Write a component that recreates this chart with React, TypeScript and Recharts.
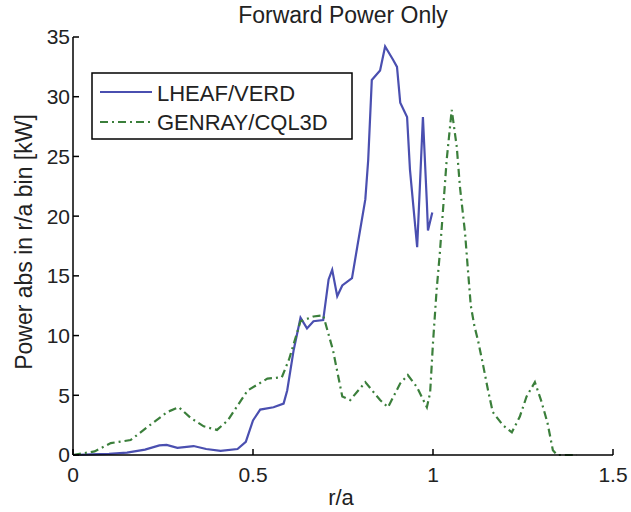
import React from 'react';
import { LineChart, Line, XAxis, YAxis, Legend, Label } from 'recharts';

// LHEAF/VERD absorbed power vs r/a
const lheafR = [0, 0.05, 0.1, 0.15, 0.2, 0.24, 0.26, 0.29, 0.335, 0.37, 0.41, 0.457, 0.48, 0.5, 0.52, 0.557, 0.585, 0.595, 0.613, 0.632, 0.65, 0.668, 0.695, 0.71, 0.72, 0.734, 0.748, 0.775, 0.79, 0.812, 0.82, 0.83, 0.853, 0.867, 0.889, 0.9, 0.909, 0.928, 0.936, 0.956, 0.964, 0.972, 0.983, 0.986, 0.998];
const lheafP = [0, 0.05, 0.1, 0.2, 0.45, 0.8, 0.85, 0.6, 0.75, 0.5, 0.35, 0.5, 1.1, 2.9, 3.8, 4.0, 4.3, 5.4, 8.8, 11.5, 10.6, 11.2, 11.3, 14.7, 15.5, 13.3, 14.2, 14.8, 17.5, 21.4, 24.7, 31.4, 32.2, 34.2, 33.1, 32.5, 29.5, 28.3, 23.9, 17.4, 22.8, 28.3, 21.1, 18.8, 20.3];

// GENRAY/CQL3D absorbed power vs r/a
const genrayR = [0, 0.06, 0.105, 0.16, 0.207, 0.262, 0.294, 0.327, 0.363, 0.4, 0.43, 0.485, 0.54, 0.58, 0.6, 0.632, 0.668, 0.695, 0.722, 0.748, 0.77, 0.812, 0.853, 0.875, 0.909, 0.93, 0.955, 0.983, 0.992, 1.0, 1.01, 1.019, 1.038, 1.052, 1.066, 1.075, 1.089, 1.097, 1.105, 1.115, 1.125, 1.14, 1.153, 1.166, 1.194, 1.219, 1.241, 1.26, 1.283, 1.3, 1.318, 1.333, 1.345, 1.4];
const genrayP = [0, 0.3, 1.0, 1.25, 2.35, 3.6, 4.0, 3.1, 2.4, 2.1, 2.9, 5.4, 6.4, 6.5, 8.0, 11.2, 11.6, 11.7, 8.8, 4.9, 4.6, 6.1, 4.6, 4.0, 6.0, 6.7, 5.7, 4.0, 5.2, 9.4, 13.8, 16.9, 24.7, 28.9, 25.8, 22.4, 18.6, 15.5, 12.5, 10.8, 9.6, 7.4, 5.4, 3.6, 2.5, 1.9, 3.2, 4.9, 6.1, 4.6, 2.7, 0.4, 0, 0];

const xTicks = [0, 0.5, 1, 1.5];
const yTicks = [0, 5, 10, 15, 20, 25, 30, 35];

const lheafData = lheafR.map((r, i) => ({ r, p: lheafP[i] }));
const genrayData = genrayR.map((r, i) => ({ r, p: genrayP[i] }));

const BLUE = '#4a4fb0';
const GREEN = '#3b7f3b';
const FONT = '"Liberation Sans", Arial, sans-serif';
const TEXT = '#222';

const LegendBox = () => (
    <svg width={262} height={68} style={{ display: 'block' }}>
        <rect x={1} y={1} width={260} height={66} fill="#fff" stroke="#000" strokeWidth={1.5} />
        <line x1={9} y1={20} x2={61} y2={20} stroke={BLUE} strokeWidth={2} />
        <text x={66} y={29} fontSize={22} fontFamily={FONT} fill={TEXT}>LHEAF/VERD</text>
        <line x1={9} y1={50} x2={61} y2={50} stroke={GREEN} strokeWidth={2} strokeDasharray="8 4 2 4" />
        <text x={66} y={58} fontSize={22} fontFamily={FONT} fill={TEXT}>GENRAY/CQL3D</text>
    </svg>
);

const App: React.FC = () => {
    const tickStyle = { fontSize: 21, fontFamily: FONT, fill: TEXT };
    return (
        <div style={{ position: 'absolute', left: 0, top: 0, width: 631, height: 512, background: '#fff' }}>
            <div
                style={{
                    position: 'absolute',
                    left: 73,
                    top: 2,
                    width: 540,
                    textAlign: 'center',
                    fontFamily: FONT,
                    fontSize: 23,
                    lineHeight: '26px',
                    color: TEXT,
                    zIndex: 2,
                }}
            >
                Forward Power Only
            </div>
            <LineChart width={631} height={512} margin={{ top: 37, right: 18, bottom: 0, left: 0 }}>
                <XAxis
                    xAxisId="bottom"
                    dataKey="r"
                    type="number"
                    domain={[0, 1.5]}
                    ticks={xTicks}
                    interval={0}
                    allowDuplicatedCategory={false}
                    height={57}
                    tickSize={-6}
                    tickMargin={18}
                    tick={tickStyle}
                    axisLine={{ stroke: '#000', strokeWidth: 1.5 }}
                    tickLine={{ stroke: '#000', strokeWidth: 1.5 }}
                >
                    <Label
                        content={() => (
                            <text x={341} y={505} textAnchor="middle" fontSize={22} fontFamily={FONT} fill={TEXT}>r/a</text>
                        )}
                    />
                </XAxis>
                <XAxis
                    xAxisId="top"
                    orientation="top"
                    dataKey="r"
                    type="number"
                    domain={[0, 1.5]}
                    ticks={xTicks}
                    interval={0}
                    height={0}
                    tickSize={-6}
                    tickFormatter={() => ''}
                    axisLine={{ stroke: '#000', strokeWidth: 1.5 }}
                    tickLine={{ stroke: '#000', strokeWidth: 1.5 }}
                />
                <YAxis
                    yAxisId="left"
                    type="number"
                    domain={[0, 35]}
                    ticks={yTicks}
                    interval={0}
                    width={73}
                    tickSize={-6}
                    tickMargin={9}
                    tick={tickStyle}
                    axisLine={{ stroke: '#000', strokeWidth: 1.5 }}
                    tickLine={{ stroke: '#000', strokeWidth: 1.5 }}
                >
                    <Label
                        content={() => (
                            <text
                                x={24}
                                y={242}
                                transform="rotate(-90 24 242)"
                                textAnchor="middle"
                                dominantBaseline="central"
                                fontSize={23}
                                fontFamily={FONT}
                                fill={TEXT}
                            >
                                Power abs in r/a bin [kW]
                            </text>
                        )}
                    />
                </YAxis>
                <YAxis
                    yAxisId="right"
                    orientation="right"
                    type="number"
                    domain={[0, 35]}
                    ticks={yTicks}
                    interval={0}
                    width={0}
                    tickSize={-6}
                    tickFormatter={() => ''}
                    axisLine={{ stroke: '#000', strokeWidth: 1.5 }}
                    tickLine={{ stroke: '#000', strokeWidth: 1.5 }}
                />
                <Legend
                    verticalAlign="middle"
                    align="center"
                    layout="horizontal"
                    content={() => <LegendBox />}
                    wrapperStyle={{ left: 91, top: 72, width: 262, height: 68 }}
                />
                <Line
                    xAxisId="bottom"
                    yAxisId="left"
                    data={lheafData}
                    dataKey="p"
                    name="LHEAF/VERD"
                    stroke={BLUE}
                    strokeWidth={2.2}
                    dot={false}
                    type="linear"
                    isAnimationActive={false}
                />
                <Line
                    xAxisId="bottom"
                    yAxisId="left"
                    data={genrayData}
                    dataKey="p"
                    name="GENRAY/CQL3D"
                    stroke={GREEN}
                    strokeWidth={2.2}
                    strokeDasharray="8 4 2 4"
                    dot={false}
                    type="linear"
                    isAnimationActive={false}
                />
            </LineChart>
        </div>
    );
};

export default App;
